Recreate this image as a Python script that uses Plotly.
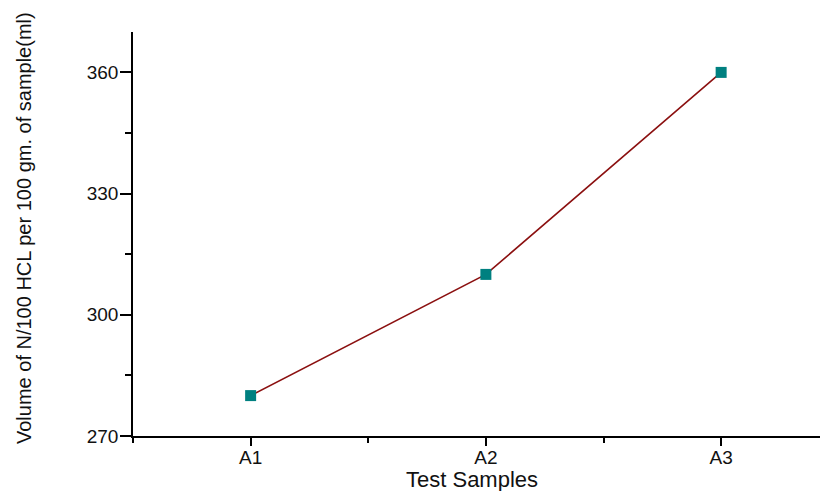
import plotly.graph_objects as go

categories = ["A1", "A2", "A3"]
x_pos = [1, 2, 3]
values = [280, 310, 360]
y_ticks = [270, 300, 330, 360]

# page body has an 8px margin; compensate so the figure fills the 828x491 window
W, H = 820, 483
L, R, T, B = 125, 1, 24, 55
FONT = "Liberation Sans, Arial, sans-serif"
TICKFONT = dict(family=FONT, size=19, color="#111")

fig = go.Figure()
fig.add_trace(go.Scatter(
    x=x_pos, y=values, mode="lines+markers",
    line=dict(color="#8B1010", width=1.6),
    marker=dict(symbol="square", size=11, color="#008080"),
    showlegend=False,
))

plot_w = W - L - R
plot_h = H - T - B

fig.update_layout(
    width=W, height=H,
    margin=dict(l=L, r=R, t=T, b=B),
    paper_bgcolor="white", plot_bgcolor="white",
    font=dict(family=FONT, color="#111", size=19),
    xaxis=dict(
        range=[0.5, 3.45], tickmode="array", tickvals=x_pos, ticktext=categories,
        showgrid=False, zeroline=False, showline=True, linecolor="black", linewidth=1.6,
        ticks="outside", ticklen=8, tickwidth=1.6, tickcolor="black",
        tickfont=TICKFONT, ticklabelstandoff=-5,
        minor=dict(tickvals=[0.5, 1.5, 2.5], ticks="outside", ticklen=5,
                   tickcolor="black", tickwidth=1.6),
    ),
    yaxis=dict(
        range=[270, 370], tickmode="array", tickvals=y_ticks,
        showgrid=False, zeroline=False, showline=True, linecolor="black", linewidth=1.6,
        ticks="outside", ticklen=11, tickwidth=1.6, tickcolor="black",
        tickfont=TICKFONT, ticklabelstandoff=-2,
        minor=dict(tickvals=[285, 315, 345], ticks="outside", ticklen=6,
                   tickcolor="black", tickwidth=1.6),
    ),
)
fig.add_annotation(
    text="Test Samples", xref="paper", yref="paper",
    x=(464 - L) / plot_w, y=-(471 - (H - B)) / plot_h,
    xanchor="center", yanchor="middle", showarrow=False,
    font=dict(family=FONT, size=22, color="#111"),
)
fig.add_annotation(
    text="Volume of N/100 HCL per 100 gm. of sample(ml)", xref="paper", yref="paper",
    x=-(L - 16) / plot_w, y=1 - (220 - T) / plot_h,
    xanchor="center", yanchor="middle", textangle=-90, showarrow=False,
    font=dict(family=FONT, size=20, color="#111"),
)
fig.write_html("out.html")
